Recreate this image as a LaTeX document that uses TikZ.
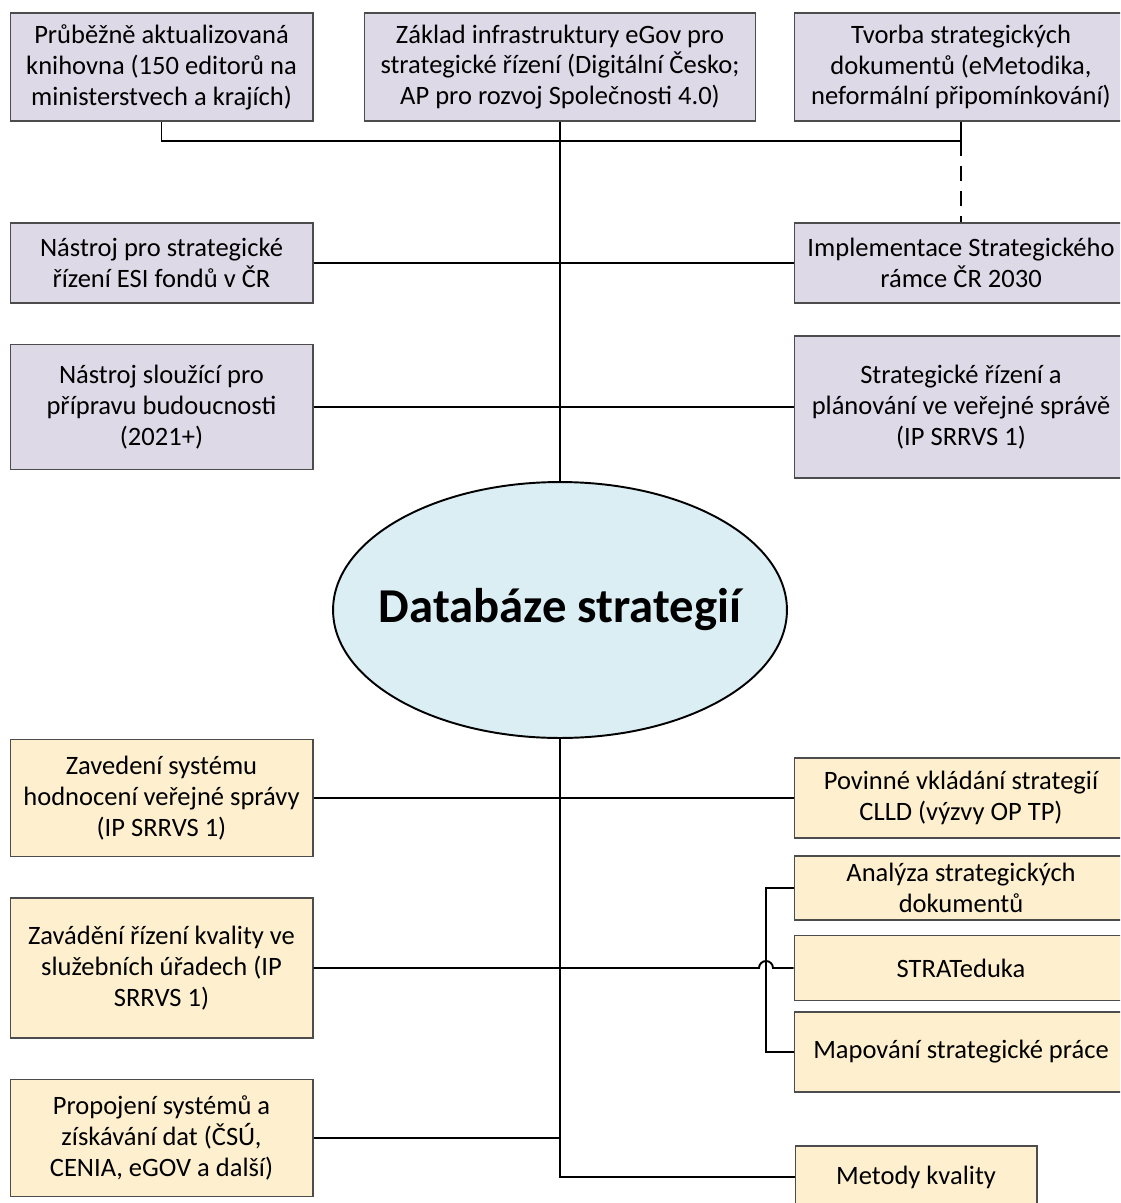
\documentclass[tikz,border=0pt]{standalone}
\usepackage{fontspec}
\setmainfont{Carlito}
\usetikzlibrary{shapes.geometric}
\definecolor{lavande}{RGB}{221,217,231}
\definecolor{paille}{RGB}{254,240,206}
\definecolor{ciel}{RGB}{219,238,244}
\tikzset{
  boite/.style={draw=black!70, line width=0.6pt, align=center, inner sep=0pt,
    font=\fontsize{15.1pt}{17.6pt}\selectfont},
  mauve/.style={boite, fill=lavande},
  jaune/.style={boite, fill=paille},
  lien/.style={line width=1.1pt},
  axe/.style={line width=0.6pt},
  pointille/.style={line width=1.1pt, dash pattern=on 8.5pt off 5.7pt}
}
\begin{document}
\begin{tikzpicture}  % ------ Databaze strategii et ses vazby --------
      [x=0.02cm,y=-0.02cm]
    \useasboundingbox (0,0) rectangle (1120,1203);
    \clip (0,0) rectangle (1120,1203);
    % -- les trois boites du haut
    \node[mauve, minimum width=6.06cm, minimum height=2.16cm] (Kn) at (161.5,67)
        {Průběžně aktualizovaná\\knihovna (150 editorů na\\ministerstvech a krajích)};
    \node[mauve, minimum width=7.84cm, minimum height=2.16cm] (Eg) at (560,67)
        {Základ infrastruktury eGov pro\\strategické řízení (Digitální Česko;\\AP pro rozvoj Společnosti 4.0)};
    \node[mauve, minimum width=6.68cm, minimum height=2.16cm] (Tv) at (961,67)
        {Tvorba strategických\\dokumentů (eMetodika,\\neformální připomínkování)};
    \node[mauve, minimum width=6.06cm, minimum height=1.6cm] (Es) at (161.5,263)
        {Nástroj pro strategické\\řízení ESI fondů v ČR};
    \node[mauve, minimum width=6.68cm, minimum height=1.6cm] (Im) at (961,263)
        {Implementace Strategického\\rámce ČR 2030};
    \node[mauve, minimum width=6.06cm, minimum height=2.5cm] (Pb) at (161.5,407)
        {Nástroj sloužící pro\\přípravu budoucnosti\\(2021+)};
    \node[mauve, minimum width=6.68cm, minimum height=2.84cm] (Sr) at (961,407)
        {Strategické řízení a\\plánování ve veřejné správě\\(IP SRRVS 1)};
    % -- l'ellipse centrale
    \node[ellipse, draw, line width=1.1pt, fill=ciel, inner sep=0pt,
          minimum width=9.08cm, minimum height=5.12cm,
          label={[font=\bfseries\fontsize{27.7pt}{32pt}\selectfont]center:Databáze strategií}]
          (Db) at (560,610) {};
    % -- les boites du bas
    \node[jaune, minimum width=6.06cm, minimum height=2.34cm] (Zs) at (161.5,798)
        {Zavedení systému\\hodnocení veřejné správy\\(IP SRRVS 1)};
    \node[jaune, minimum width=6.68cm, minimum height=1.6cm] (Pv) at (961,798)
        {Povinné vkládání strategií\\CLLD (výzvy OP TP)};
    \node[jaune, minimum width=6.68cm, minimum height=1.28cm] (An) at (961,888)
        {Analýza strategických\\dokumentů};
    \node[jaune, minimum width=6.68cm, minimum height=1.3cm] (St) at (961,968)
        {STRATeduka};
    \node[jaune, minimum width=6.68cm, minimum height=1.6cm] (Mp) at (961,1052)
        {Mapování strategické práce};
    \node[jaune, minimum width=6.06cm, minimum height=2.8cm] (Zk) at (161.5,968)
        {Zavádění řízení kvality ve\\služebních úřadech (IP\\SRRVS 1)};
    \node[jaune, minimum width=6.06cm, minimum height=2.34cm] (Pd) at (161.5,1138)
        {Propojení systémů a\\získávání dat (ČSÚ,\\CENIA, eGOV a další)};
    \node[jaune, minimum width=4.84cm, minimum height=1.24cm] (Mk) at (916,1177)
        {Metody kvality};
    \coordinate (T) at (560,141);   % barre du haut
    \coordinate (R) at (766,968);   % le petit rail a droite
    % -- les liens
    \draw[lien] (Kn.south) |- (T) -| (Tv.south) ;
    \draw[pointille] (Tv.south |- T) -- (Im.north) ;
    \draw[axe] (Eg.south) -- (Db.north) ;
    \draw[axe] (Db.south) |- (Mk.west) ;
    \draw[lien] (Es.east) -- (Im.west) ;
    \draw[lien] (Pb.east) -- (Sr.west) ;
    \draw[lien] (Zs.east) -- (Pv.west) ;
    \draw[lien] (Pd.east) -- (Pd.east -| Db.south) ;
    \draw[lien] (An.west) -| (R) |- (Mp.west) ;
    \draw[lien] (Zk.east) -- (759,968) arc[start angle=180, end angle=0, radius=0.14cm]
        -- (St.west) ;  % saut au-dessus du rail
\end{tikzpicture}
\end{document}
